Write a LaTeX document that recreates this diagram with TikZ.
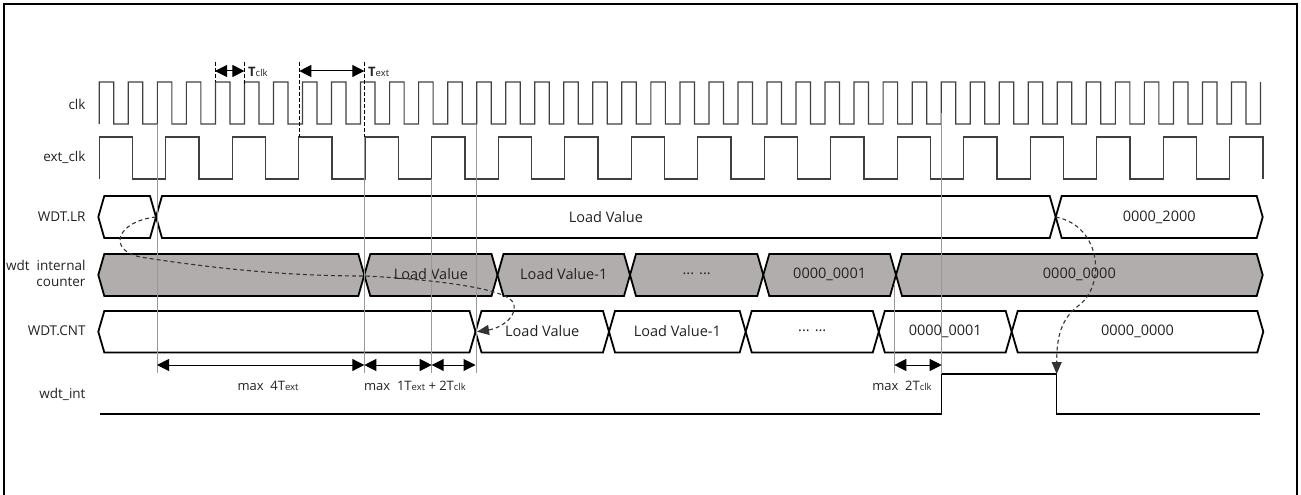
\documentclass[tikz,border=0pt]{standalone}
\usepackage{fontspec}
\setmainfont{Open Sans}
\usetikzlibrary{arrows.meta}

\definecolor{busgray}{RGB}{176,173,172}
\definecolor{inkgray}{RGB}{34,34,34}

\tikzset{
  wave/.style={line width=1.2pt, black!75},
  busline/.style={line width=1.8pt, black, line join=miter},
  bustext/.style={font=\fontsize{14.5}{16}\selectfont, text=inkgray},
  sigtext/.style={anchor=east, font=\fontsize{13.5}{16}\selectfont, text=inkgray, align=right},
  guide/.style={line width=0.8pt, black!40},
  dimarrow/.style={line width=1pt, black, {Triangle[length=12pt,width=12pt]}-{Triangle[length=12pt,width=12pt]}},
  marker/.style={line width=1pt, black, dashed, dash pattern=on 4pt off 2pt},
  flow/.style={line width=1.1pt, black!80, dash pattern=on 4pt off 3pt, -{Triangle[length=12pt,width=10pt]}},
  dimtext/.style={font=\fontsize{13}{15}\selectfont, text=inkgray}
}

\newcommand{\sml}[1]{{\fontsize{9.5}{10}\selectfont #1}}
\newcommand{\skipdots}{... ...}

\begin{document}
\begin{tikzpicture}[x=1pt, y=-1pt]
\useasboundingbox (0,0) rectangle (1301,495);

% frame
\draw[line width=2.5pt] (4,495) -- (4,4) -- (1297,4) -- (1297,495);

% signal names
\node[sigtext] (lclk) at (89,104) {clk};
\node[sigtext] (lext) at (89,157) {ext\_clk};
\node[sigtext] (llr) at (89,217) {WDT.LR};
\node[sigtext] (lcnt) at (89,273) {wdt\ \ internal\\counter};
\node[sigtext] (lreg) at (89,331) {WDT.CNT};
\node[sigtext] (lint) at (89,394) {wdt\_int};

% clocks
\draw[wave] (99.3,124) \foreach \k in {0,...,39}{ -- ({99.3+29.03*\k},82) -- ({113.8+29.03*\k},82) -- ({113.8+29.03*\k},124) -- ({128.33+29.03*\k},124) } -- (1260.5,82);
\draw[wave] (99.3,179) \foreach \k in {0,...,16}{ -- ({99.3+66.5*\k},179) -- ({99.3+66.5*\k},137) -- ({132.55+66.5*\k},137) -- ({132.55+66.5*\k},179) } -- (1229.8,179) -- (1229.8,137) -- (1263,137) -- (1263,179);

% WDT.LR
\foreach \xa/\xb/\txt/\nm in {98.3/156//lra, 156/1055.7/Load Value/lrb, 1055.7/1262.7/0000\_2000/lrc}{
  \draw[busline, fill=white] (\xa,217) -- (\xa+6,196) -- (\xb-6,196) -- (\xb,217) -- (\xb-6,238) -- (\xa+6,238) -- cycle;
  \node[bustext] (\nm) at ({(\xa+\xb)/2},217) {\txt};
}

% internal counter
\foreach \xa/\xb/\txt/\nm in {98.3/364.3//ica, 364.3/497.5/Load Value/icb, 497.5/630/Load Value-1/icc, 630/763.3/\skipdots/icd, 763.3/896/0000\_0001/ice, 896/1262.7/0000\_0000/icf}{
  \draw[busline, fill=busgray] (\xa,275) -- (\xa+6,254) -- (\xb-6,254) -- (\xb,275) -- (\xb-6,296) -- (\xa+6,296) -- cycle;
  \node[bustext] (\nm) at ({(\xa+\xb)/2},274) {\txt};
}

% WDT.CNT
\foreach \xa/\xb/\txt/\nm in {98.3/475.5//cna, 475.5/609/Load Value/cnb, 609/745.7/Load Value-1/cnc, 745.7/878.8/\skipdots/cnd, 878.8/1011.7/0000\_0001/cne, 1011.7/1263.3/0000\_0000/cnf}{
  \draw[busline, fill=white] (\xa,331.7) -- (\xa+6,311) -- (\xb-6,311) -- (\xb,331.7) -- (\xb-6,352.4) -- (\xa+6,352.4) -- cycle;
  \node[bustext] (\nm) at ({(\xa+\xb)/2},331) {\txt};
}

% wdt_int
\draw[wave, black] (100,414) -- (941.7,414) -- (941.7,374) -- (1056.7,374) -- (1056.7,414) -- (1260,414);

% guides
\draw[guide] (157,124) -- (157,373);
\draw[guide] (364.3,137) -- (364.3,373);
\draw[guide] (431.7,179) -- (431.7,373);
\draw[guide] (476,124) -- (476,373);
\draw[guide] (894.3,285) -- (894.3,373);
\draw[guide] (941.7,113) -- (941.7,374);

% period markers
\coordinate (tc1) at (215,71);
\coordinate (tc2) at (244.4,71);
\coordinate (te1) at (299.3,71);
\coordinate (te2) at (364.3,71);
\draw[marker] (215,62) -- (215,82);
\draw[marker] (244.4,62) -- (244.4,84);
\draw[marker] (299.3,62) -- (299.3,137);
\draw[marker] (364.3,62) -- (364.3,137);
\draw[dimarrow] (tc1) -- (tc2);
\draw[dimarrow] (te1) -- (te2);
\node[dimtext, anchor=west, inner sep=0pt] (ttclk) at (248,72) {\textbf{T}\sml{clk}};
\node[dimtext, anchor=west, inner sep=0pt] (ttext) at (368,72) {\textbf{T}\sml{ext}};

% delays
\coordinate (d1) at (157,365);
\coordinate (d2) at (364.3,365);
\coordinate (d3) at (431.7,365);
\coordinate (d4) at (475.5,365);
\coordinate (d5) at (894.3,365);
\coordinate (d6) at (941.7,365);
\draw[dimarrow] (d1) -- (d2);
\draw[dimarrow] (d2) -- (d3);
\draw[dimarrow] (d3) -- (d4);
\draw[dimarrow] (d5) -- (d6);
\node[dimtext] (dl1) at (268,386) {max\ \ 4T\sml{ext}};
\node[dimtext] (dl2) at (415,386) {max\ \ 1T\sml{ext} + 2T\sml{clk}};
\node[dimtext] (dl3) at (902,386) {max\ \ 2T\sml{clk}};

% load / reload paths
\coordinate (lrx) at (156,217);
\coordinate (icx) at (364.3,276);
\coordinate (cnx) at (477,331.7);
\coordinate (lrx2) at (1055.7,217);
\coordinate (intf) at (1056.7,374);
\draw[flow] (lrx) .. controls (118,221) and (106,249) .. (140,257) .. controls (230,271) and (300,276) .. (icx) .. controls (430,279) and (502,288) .. (512,301) .. controls (521,314) and (502,328) .. (cnx);
\draw[flow] (lrx2) .. controls (1102,226) and (1106,286) .. (1078,306) .. controls (1058,321) and (1056.7,345) .. (intf);

\end{tikzpicture}
\end{document}
